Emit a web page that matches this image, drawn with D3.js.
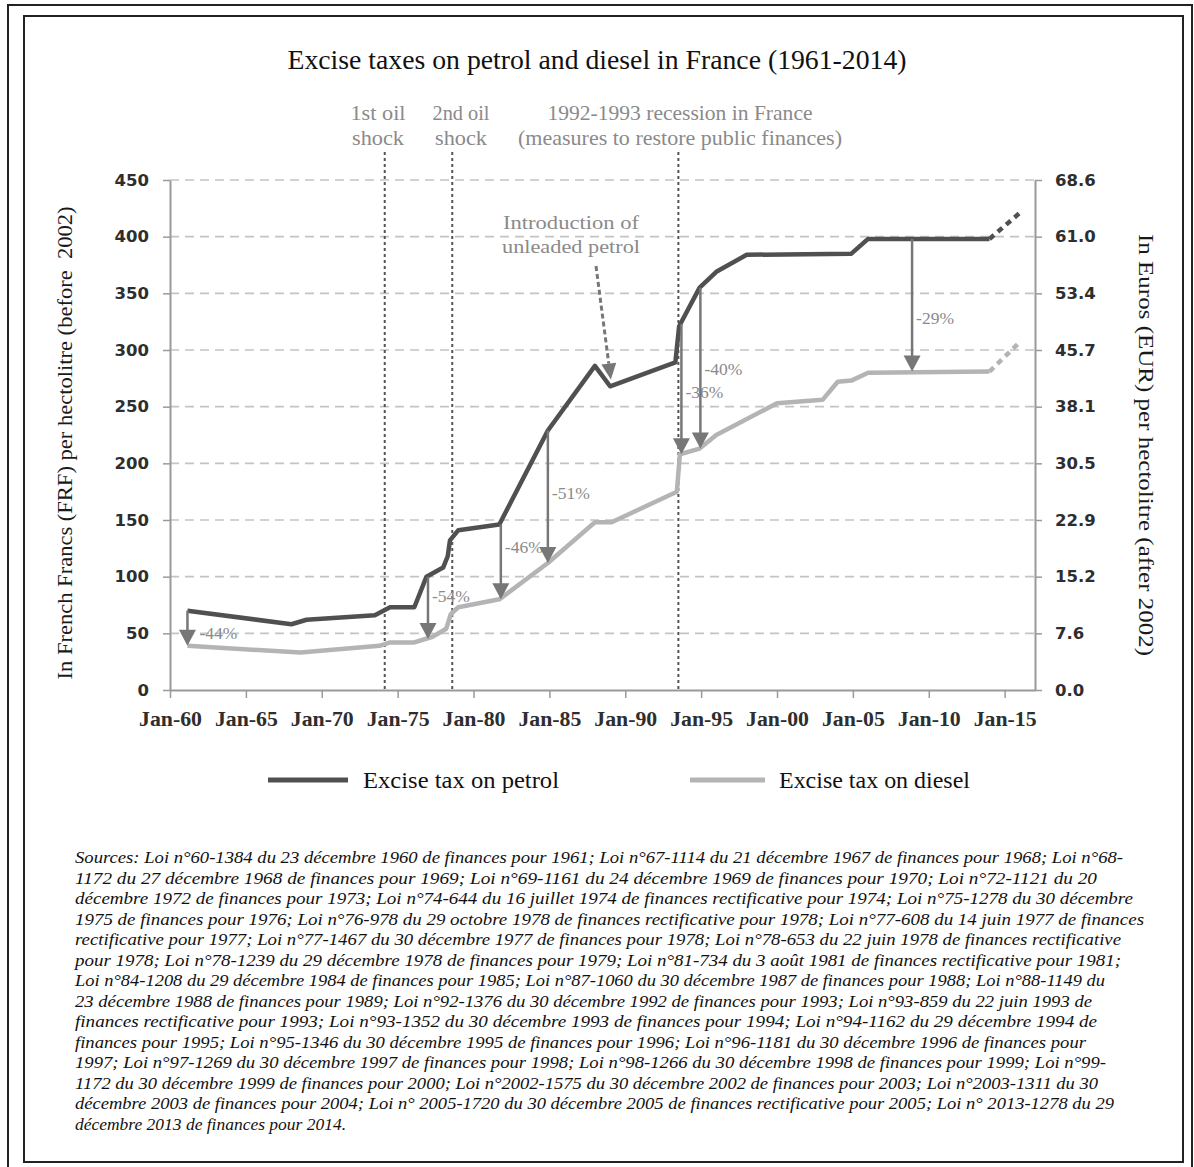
<!DOCTYPE html>
<html><head><meta charset="utf-8">
<script src="https://cdn.jsdelivr.net/npm/d3@7"></script>
<style>body{margin:0;background:#fff}svg{display:block}</style>
</head><body>
<script>
// ---------- DATA ----------
const petrolYears = [1961.15, 1968.0, 1969.0, 1973.5, 1974.5, 1976.1, 1976.9, 1978.0, 1978.3, 1978.45, 1979.0, 1981.7, 1984.9, 1988.0, 1989.0, 1993.3, 1993.55, 1994.9, 1996.0, 1998.0, 2004.9, 2006.0, 2014.0];
const petrolFRF   = [70, 58, 62, 66, 73, 73, 100, 108, 118, 132, 141, 146, 229, 286, 268, 289, 321, 355, 369, 384, 385, 398, 398];
const dieselYears = [1961.15, 1968.6, 1973.8, 1974.5, 1976.1, 1977.3, 1978.2, 1978.5, 1979.0, 1981.7, 1984.9, 1988.0, 1989.1, 1993.4, 1993.6, 1994.9, 1996.0, 2000.0, 2003.0, 2004.0, 2004.9, 2006.0, 2014.0];
const dieselFRF   = [39, 33, 39, 42, 42, 47, 54, 67, 73, 80, 112, 148, 148, 175, 208, 213, 225, 253, 256, 272, 273, 280, 281];
const projYears  = [2014.0, 2016.0];
const projPetrol = [398, 421];
const projDiesel = [281, 307];

const xTickYears  = [1960, 1965, 1970, 1975, 1980, 1985, 1990, 1995, 2000, 2005, 2010, 2015];
const xTickLabels = ["Jan-60","Jan-65","Jan-70","Jan-75","Jan-80","Jan-85","Jan-90","Jan-95","Jan-00","Jan-05","Jan-10","Jan-15"];
const yTicksFRF   = [0, 50, 100, 150, 200, 250, 300, 350, 400, 450];
const yTicksEURLabels = ["0.0","7.6","15.2","22.9","30.5","38.1","45.7","53.4","61.0","68.6"];

const eventYears  = [1974.15, 1978.6, 1993.5];
const eventLabels = [["1st oil","shock"],["2nd oil","shock"],["1992-1993 recession in France","(measures to restore public finances)"]];

const gapYears   = [1961.15, 1977.0, 1981.8, 1984.9, 1993.7, 1994.95, 2008.9];
const gapTop     = [70, 100, 146, 229, 323, 355, 398];
const gapBottom  = [39, 45, 80, 112, 208, 213, 281];
const gapLabels  = ["-44%","-54%","-46%","-51%","-36%","-40%","-29%"];
const gapLabelAt = [50, 83, 126, 174, 263, 283, 328];

const sourceLines = [
"Sources: Loi n°60-1384 du 23 décembre 1960 de finances pour 1961; Loi n°67-1114 du 21 décembre 1967 de finances pour 1968; Loi n°68-",
"1172 du 27 décembre 1968 de finances pour 1969; Loi n°69-1161 du 24 décembre 1969 de finances pour 1970; Loi n°72-1121 du 20",
"décembre 1972 de finances pour 1973; Loi n°74-644 du 16 juillet 1974 de finances rectificative pour 1974; Loi n°75-1278 du 30 décembre",
"1975 de finances pour 1976; Loi n°76-978 du 29 octobre 1978 de finances rectificative pour 1978; Loi n°77-608 du 14 juin 1977 de finances",
"rectificative pour 1977; Loi n°77-1467 du 30 décembre 1977 de finances pour 1978; Loi n°78-653 du 22 juin 1978 de finances rectificative",
"pour 1978; Loi n°78-1239 du 29 décembre 1978 de finances pour 1979; Loi n°81-734 du 3 août 1981 de finances rectificative pour 1981;",
"Loi n°84-1208 du 29 décembre 1984 de finances pour 1985; Loi n°87-1060 du 30 décembre 1987 de finances pour 1988; Loi n°88-1149 du",
"23 décembre 1988 de finances pour 1989; Loi n°92-1376 du 30 décembre 1992 de finances pour 1993; Loi n°93-859 du 22 juin 1993 de",
"finances rectificative pour 1993; Loi n°93-1352 du 30 décembre 1993 de finances pour 1994; Loi n°94-1162 du 29 décembre 1994 de",
"finances pour 1995; Loi n°95-1346 du 30 décembre 1995 de finances pour 1996; Loi n°96-1181 du 30 décembre 1996 de finances pour",
"1997; Loi n°97-1269 du 30 décembre 1997 de finances pour 1998; Loi n°98-1266 du 30 décembre 1998 de finances pour 1999; Loi n°99-",
"1172 du 30 décembre 1999 de finances pour 2000; Loi n°2002-1575 du 30 décembre 2002 de finances pour 2003; Loi n°2003-1311 du 30",
"décembre 2003 de finances pour 2004; Loi n° 2005-1720 du 30 décembre 2005 de finances rectificative pour 2005; Loi n° 2013-1278 du 29",
"décembre 2013 de finances pour 2014."
];
const sourceWidths = [1048, 1022, 1058, 1069, 1046, 1046, 1030, 1017, 1022, 1011, 1031, 1023, 1039, 271];

// ---------- DRAW ----------
const W = 1194, H = 1167;
const svg = d3.select("body").append("svg").attr("width", W).attr("height", H);
const serif = "'Liberation Serif', 'Times New Roman', serif";
const PET = "#505050", DIE = "#b4b4b4", ARW = "#777777", ANN = "#8a8a8a";

// frames
svg.append("rect").attr("x", 8).attr("y", 5).attr("width", 1184).attr("height", 1170)
  .attr("fill", "none").attr("stroke", "#222").attr("stroke-width", 2);
svg.append("rect").attr("x", 24).attr("y", 16).attr("width", 1159).attr("height", 1146)
  .attr("fill", "none").attr("stroke", "#222").attr("stroke-width", 2);

const x = d3.scaleLinear().domain([1960, 2017]).range([170, 1035]);
const y = d3.scaleLinear().domain([0, 450]).range([690, 180]);

function txt(g, s, px, py, size, opts = {}) {
  const t = g.append("text").attr("x", px).attr("y", py).text(s)
    .attr("font-family", opts.family || serif).attr("font-size", size)
    .attr("fill", opts.fill || "#111").attr("text-anchor", opts.anchor || "start");
  if (opts.len) t.attr("textLength", opts.len).attr("lengthAdjust", "spacingAndGlyphs");
  if (opts.italic) t.attr("font-style", "italic");
  if (opts.weight) t.attr("font-weight", opts.weight);
  return t;
}

// title
txt(svg, "Excise taxes on petrol and diesel in France (1961-2014)", 597, 69, 27, {anchor: "middle", len: 619});

// gridlines
svg.append("g").selectAll("line").data(yTicksFRF.filter(v => v > 0)).join("line")
  .attr("x1", x(1960)).attr("x2", x(2017)).attr("y1", d => y(d)).attr("y2", d => y(d))
  .attr("stroke", "#c4c4c4").attr("stroke-width", 1.6).attr("stroke-dasharray", "9,6");

// event lines + labels
const ev = svg.append("g");
eventYears.forEach((yr, i) => {
  ev.append("line").attr("x1", x(yr)).attr("x2", x(yr)).attr("y1", 152).attr("y2", y(0))
    .attr("stroke", "#555").attr("stroke-width", 2).attr("stroke-dasharray", "3,3");
});
const evCx = [378, 461, 680];
const evLens = [[55, 52], [57, 52], [265, 324]];
eventLabels.forEach((ls, i) => {
  ls.forEach((s, j) => txt(ev, s, evCx[i], 120 + j * 25, 21.5, {anchor: "middle", fill: ANN, len: evLens[i][j]}));
});

// series
const line = d3.line().x(d => x(d[0])).y(d => y(d[1]));
const pet = petrolYears.map((v, i) => [v, petrolFRF[i]]);
const die = dieselYears.map((v, i) => [v, dieselFRF[i]]);
svg.append("path").attr("d", line(die)).attr("fill", "none").attr("stroke", DIE).attr("stroke-width", 4.5).attr("stroke-linejoin", "round");
svg.append("path").attr("d", line(projYears.map((v, i) => [v, projDiesel[i]]))).attr("fill", "none").attr("stroke", DIE).attr("stroke-width", 4.5).attr("stroke-dasharray", "6,5");
svg.append("path").attr("d", line(pet)).attr("fill", "none").attr("stroke", PET).attr("stroke-width", 4.5).attr("stroke-linejoin", "round");
svg.append("path").attr("d", line(projYears.map((v, i) => [v, projPetrol[i]]))).attr("fill", "none").attr("stroke", PET).attr("stroke-width", 4.5).attr("stroke-dasharray", "6,5");

// gap arrows
const ag = svg.append("g");
const hw = 8.5, hl = 16;
gapYears.forEach((yr, i) => {
  const ax = x(yr), y1 = y(gapTop[i]), y2 = y(gapBottom[i]);
  ag.append("line").attr("x1", ax).attr("x2", ax).attr("y1", y1).attr("y2", y2 - hl + 1)
    .attr("stroke", ARW).attr("stroke-width", 2.5);
  ag.append("path").attr("d", `M${ax - hw},${y2 - hl} L${ax + hw},${y2 - hl} L${ax},${y2} Z`).attr("fill", ARW);
  const off = i === 0 ? 12 : 4;
  txt(ag, gapLabels[i], ax + off, y(gapLabelAt[i]) + 6, 17.5, {fill: ANN});
});

// unleaded petrol annotation
txt(svg, "Introduction of", 571, 229, 19.5, {anchor: "middle", fill: ANN, len: 136});
txt(svg, "unleaded petrol", 571, 253, 19.5, {anchor: "middle", fill: ANN, len: 138});
const ux1 = 596, uy1 = 266, tipYr = 1989.05, tipV = 274;
const ux2 = x(tipYr), uy2 = y(tipV);
const ang = Math.atan2(uy2 - uy1, ux2 - ux1);
const hx = ux2 - Math.cos(ang) * 16, hy = uy2 - Math.sin(ang) * 16;
svg.append("line").attr("x1", ux1).attr("y1", uy1).attr("x2", hx).attr("y2", hy)
  .attr("stroke", ARW).attr("stroke-width", 3).attr("stroke-dasharray", "5,3");
const px = -Math.sin(ang) * 7.5, py = Math.cos(ang) * 7.5;
svg.append("path").attr("d", `M${hx + px},${hy + py} L${hx - px},${hy - py} L${ux2},${uy2} Z`).attr("fill", ARW);

// axes
const axisColor = "#9a9a9a";
const gl = svg.append("g").attr("transform", `translate(${x(1960)},0)`)
  .call(d3.axisLeft(y).tickValues(yTicksFRF).tickSize(7).tickSizeOuter(0).tickPadding(14));
const gr = svg.append("g").attr("transform", `translate(${x(2017)},0)`)
  .call(d3.axisRight(y).tickValues(yTicksFRF).tickFormat((d, i) => yTicksEURLabels[i]).tickSize(7).tickSizeOuter(0).tickPadding(13));
const gb = svg.append("g").attr("transform", `translate(0,${y(0)})`)
  .call(d3.axisBottom(x).tickValues(xTickYears).tickFormat((d, i) => xTickLabels[i]).tickSize(8).tickSizeOuter(0).tickPadding(14));
[gl, gr, gb].forEach(g => {
  g.select(".domain").attr("stroke", axisColor).attr("stroke-width", 2);
  g.selectAll(".tick line").attr("stroke", axisColor).attr("stroke-width", 1.5);
});
[gl, gr].forEach(g => g.selectAll(".tick text")
  .attr("font-family", "'DejaVu Sans', Verdana, sans-serif").attr("font-size", 16.5)
  .attr("font-weight", "bold").attr("fill", "#2e2e2e"));
gb.selectAll(".tick text").attr("font-family", serif).attr("font-size", 20)
  .attr("font-weight", "bold").attr("fill", "#2e2e2e")
  .attr("textLength", 63).attr("lengthAdjust", "spacingAndGlyphs");

// axis titles
txt(svg, "In French Francs (FRF) per hectolitre (before  2002)", 0, 0, 21, {anchor: "middle", fill: "#1a1a1a", len: 473})
  .attr("transform", "translate(72,443) rotate(-90)").style("white-space", "pre");
txt(svg, "In Euros (EUR) per hectolitre (after 2002)", 0, 0, 21, {anchor: "middle", fill: "#1a1a1a", len: 422})
  .attr("transform", "translate(1139,445) rotate(90)");

// legend
svg.append("line").attr("x1", 268).attr("x2", 348).attr("y1", 780).attr("y2", 780).attr("stroke", PET).attr("stroke-width", 5);
txt(svg, "Excise tax on petrol", 363, 788, 22.5, {len: 196});
svg.append("line").attr("x1", 690).attr("x2", 765).attr("y1", 780).attr("y2", 780).attr("stroke", DIE).attr("stroke-width", 5);
txt(svg, "Excise tax on diesel", 779, 788, 22.5, {len: 191});

// sources
const sg = svg.append("g");
sourceLines.forEach((s, i) => {
  txt(sg, s, 75, 863 + i * 20.5, 16.5, {italic: true, len: sourceWidths[i]});
});
</script>
</body></html>
